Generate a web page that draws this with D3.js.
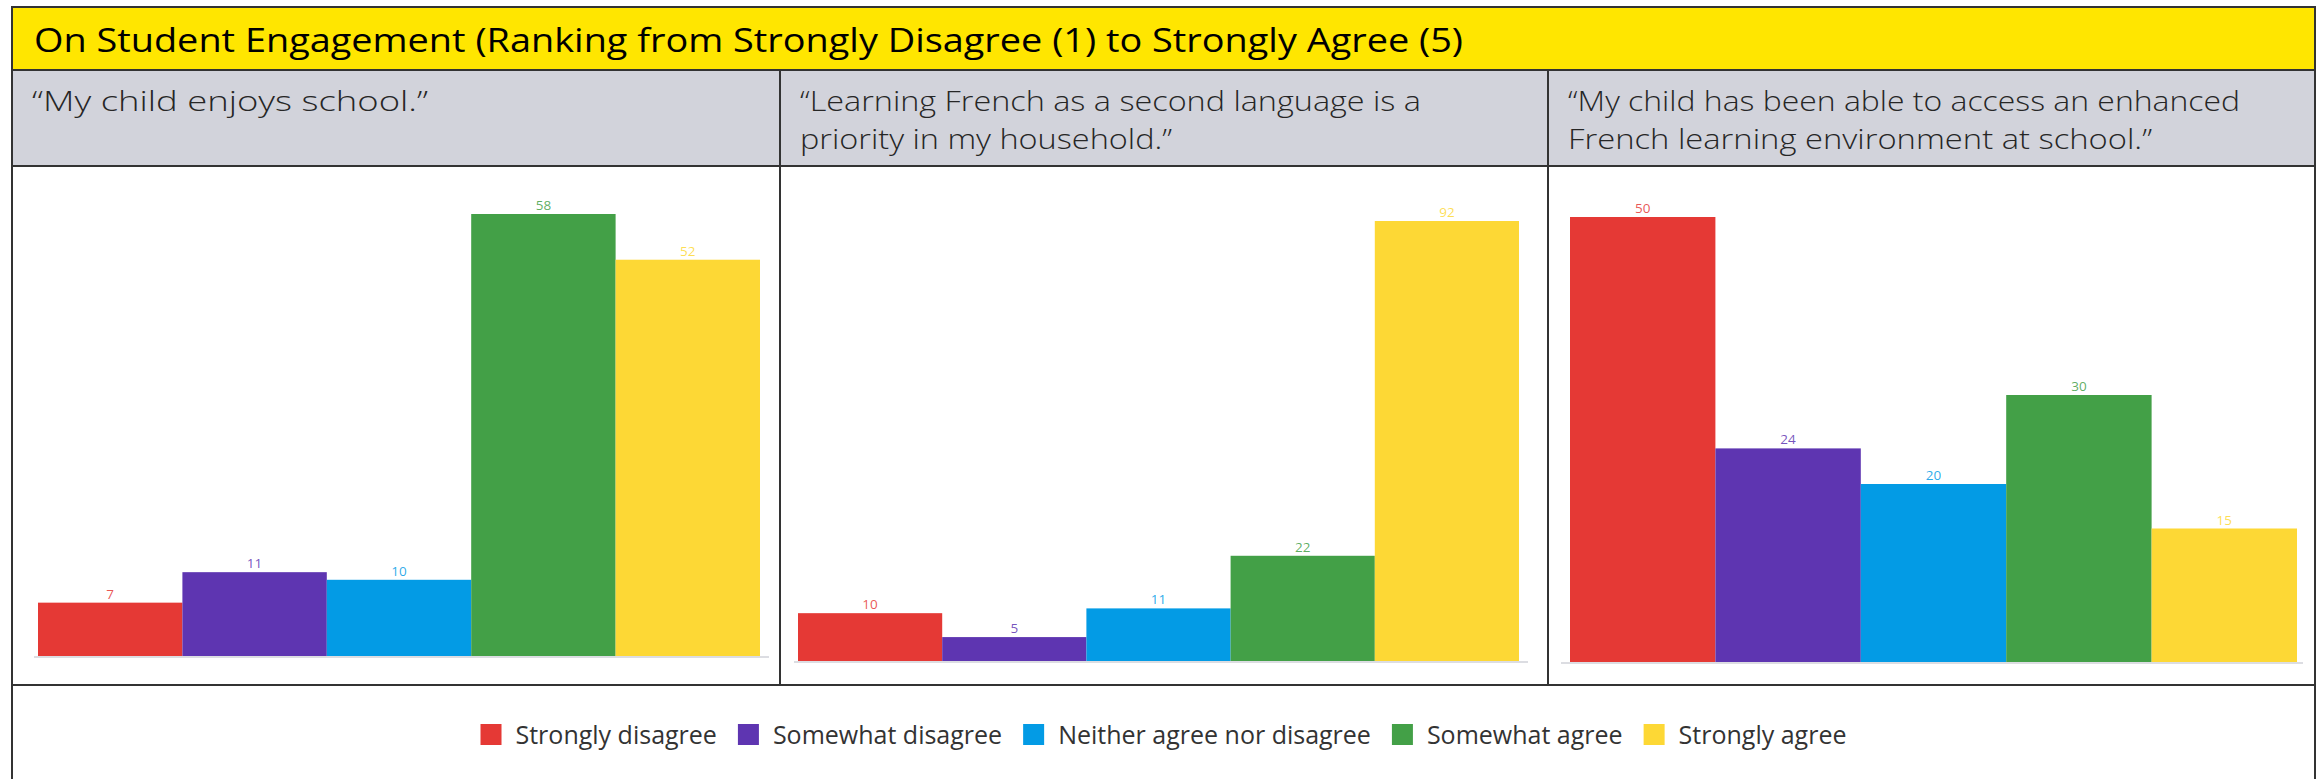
<!DOCTYPE html>
<html>
<head>
<meta charset="utf-8">
<script src="https://cdn.jsdelivr.net/npm/d3@7"></script>
<style>
  html, body { margin: 0; padding: 0; background: #ffffff; }
  svg { display: block; }
</style>
</head>
<body>
<svg id="chart" width="2323" height="779"></svg>
<script>
// ---- Data ----
const title = "On Student Engagement (Ranking from Strongly Disagree (1) to Strongly Agree (5)";
const categories = ["Strongly disagree", "Somewhat disagree", "Neither agree nor disagree", "Somewhat agree", "Strongly agree"];
const statements = [
  ["\u201CMy child enjoys school.\u201D"],
  ["\u201CLearning French as a second language is a", "priority in my household.\u201D"],
  ["\u201CMy child has been able to access an enhanced", "French learning environment at school.\u201D"]
];
const enjoysSchool = [7, 11, 10, 58, 52];
const frenchPriority = [10, 5, 11, 22, 92];
const enhancedAccess = [50, 24, 20, 30, 15];
const panelValues = [enjoysSchool, frenchPriority, enhancedAccess];

// ---- Styles ----
const barColors = ["#e53935", "#5e35b1", "#039be5", "#43a047", "#fdd835"];
const ink = "#262626";
const gridLine = "#333333";

// ---- Table layout ----
const table = { left: 12, right: 2315, top: 7, bottom: 800 };
const rows = { titleBottom: 70, headerBottom: 166, chartBottom: 685 };
const colEdges = [12, 780, 1548, 2315];

// chart plot areas inside each cell
const plots = [
  { x0: 38,   x1: 760,  base: 656, top: 214, axis0: 34,   axis1: 769 },
  { x0: 798,  x1: 1519, base: 661, top: 221, axis0: 794,  axis1: 1528 },
  { x0: 1570, x1: 2297, base: 662, top: 217, axis0: 1561, axis1: 2303 }
];

const svg = d3.select("#chart");

// Title band and header band
svg.append("rect")
  .attr("x", table.left).attr("y", table.top)
  .attr("width", table.right - table.left).attr("height", rows.titleBottom - table.top)
  .attr("fill", "#ffe600");
svg.append("rect")
  .attr("x", table.left).attr("y", rows.titleBottom)
  .attr("width", table.right - table.left).attr("height", rows.headerBottom - rows.titleBottom)
  .attr("fill", "#d2d3db");

// Title
svg.append("text")
  .attr("x", 34).attr("y", 52)
  .attr("font-family", "'Open Sans', sans-serif")
  .attr("font-size", 33)
  .attr("fill", "#000")
  .attr("textLength", 1429)
  .attr("lengthAdjust", "spacingAndGlyphs")
  .text(title);

// Statement headers
const headerWidths = [[396], [621, 372], [672, 584]];
statements.forEach((lines, i) => {
  const t = svg.append("text")
    .attr("font-family", "'Open Sans', sans-serif")
    .attr("font-size", 28)
    .attr("font-weight", 300)
    .attr("fill", ink);
  lines.forEach((line, j) => {
    t.append("tspan")
      .attr("x", colEdges[i] + 20)
      .attr("y", 111 + j * 38)
      .attr("textLength", headerWidths[i][j])
      .attr("lengthAdjust", "spacingAndGlyphs")
      .text(line);
  });
});

// Bar panels
panelValues.forEach((values, i) => {
  const p = plots[i];
  const x = d3.scaleBand().domain(categories).range([p.x0, p.x1]).padding(0);
  const y = d3.scaleLinear().domain([0, d3.max(values)]).range([p.base, p.top]);
  const g = svg.append("g");

  g.append("line")
    .attr("x1", p.axis0).attr("x2", p.axis1)
    .attr("y1", p.base + 1).attr("y2", p.base + 1)
    .attr("stroke", "#dcdde2").attr("stroke-width", 2);

  g.selectAll("rect.bar")
    .data(values)
    .join("rect")
    .attr("class", "bar")
    .attr("x", (d, k) => x(categories[k]))
    .attr("y", d => y(d))
    .attr("width", x.bandwidth())
    .attr("height", d => p.base - y(d))
    .attr("fill", (d, k) => barColors[k]);

  g.selectAll("text.val")
    .data(values)
    .join("text")
    .attr("class", "val")
    .attr("x", (d, k) => x(categories[k]) + x.bandwidth() / 2)
    .attr("y", d => y(d) - 4)
    .attr("text-anchor", "middle")
    .attr("font-family", "'Open Sans', sans-serif")
    .attr("font-size", 13.5)
    .attr("fill", (d, k) => barColors[k])
    .attr("fill-opacity", 0.85)
    .text(d => d);
});

// Legend, centred under the table
const legendSize = 21;
const legend = svg.append("g").attr("font-family", "'Open Sans', sans-serif").attr("font-size", 25);
const items = legend.selectAll("g.item").data(categories).join("g").attr("class", "item");
items.append("rect")
  .attr("width", legendSize).attr("height", legendSize)
  .attr("y", 724)
  .attr("fill", (d, k) => barColors[k]);
const labels = items.append("text")
  .attr("y", 744)
  .attr("fill", "#333")
  .text(d => d);
const widths = labels.nodes().map(n => n.getComputedTextLength());
const gapIn = 14, gapOut = 21;
const total = d3.sum(widths) + categories.length * (legendSize + gapIn) + (categories.length - 1) * gapOut;
let cursor = (table.left + table.right) / 2 - total / 2;
items.each(function(d, k) {
  const gi = d3.select(this);
  gi.select("rect").attr("x", cursor);
  gi.select("text").attr("x", cursor + legendSize + gapIn);
  cursor += legendSize + gapIn + widths[k] + gapOut;
});

// Table rules
const rules = svg.append("g").attr("stroke", gridLine).attr("stroke-width", 2).attr("fill", "none");
rules.append("rect")
  .attr("x", table.left).attr("y", table.top)
  .attr("width", table.right - table.left).attr("height", table.bottom - table.top);
[rows.titleBottom, rows.headerBottom, rows.chartBottom].forEach(yy => {
  rules.append("line").attr("x1", table.left).attr("x2", table.right).attr("y1", yy).attr("y2", yy);
});
colEdges.slice(1, 3).forEach(xx => {
  rules.append("line").attr("x1", xx).attr("x2", xx).attr("y1", rows.titleBottom).attr("y2", rows.chartBottom);
});
</script>
</body>
</html>
